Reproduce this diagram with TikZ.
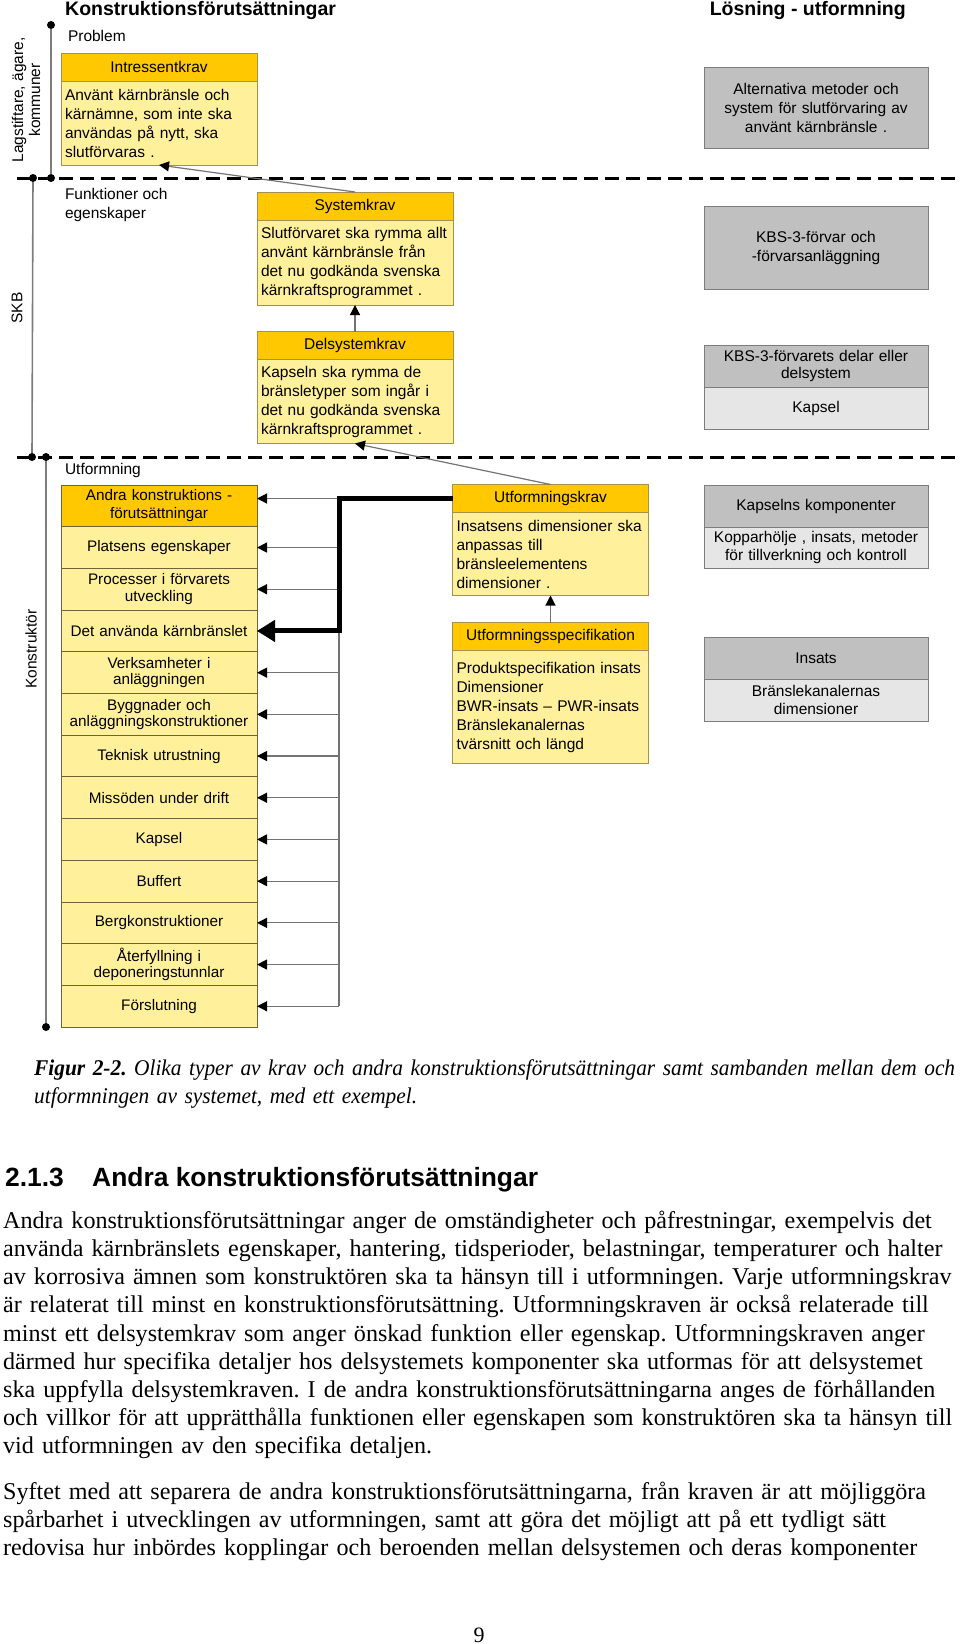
\documentclass[tikz,border=0pt]{standalone}
\usepackage{fontspec}
\setmainfont{Liberation Serif}
\newfontfamily\arial{Liberation Sans}
\newfontfamily\capfont[FakeStretch=0.95]{Liberation Serif}
\usepackage{tikz}
\usetikzlibrary{arrows.meta}
\usetikzlibrary{positioning}

\definecolor{hdrorange}{RGB}{255,200,0}
\definecolor{bodyyellow}{RGB}{255,241,155}
\definecolor{yborder}{RGB}{165,145,75}
\definecolor{rowline}{RGB}{110,100,55}
\definecolor{greydark}{RGB}{192,192,192}
\definecolor{greylight}{RGB}{230,230,230}
\definecolor{gborder}{RGB}{125,125,125}
\definecolor{axisgrey}{RGB}{125,125,125}
\definecolor{connline}{RGB}{115,115,115}

\begin{document}
\frenchspacing
\begin{tikzpicture}[x=1pt,y=-1pt,
  lbl/.style={font=\arial\fontsize{15.5}{19}\selectfont, inner sep=0pt, outer sep=0pt},
  ttl/.style={font=\arial\bfseries\fontsize{19.5}{22}\selectfont, inner sep=0pt},
  hdr/.style={lbl, draw=yborder, fill=hdrorange, line width=1pt, minimum width=196pt, minimum height=28pt},
  bodybox/.style={lbl, draw=yborder, fill=bodyyellow, line width=1pt, text width=188pt, inner xsep=4pt, inner ysep=3pt, align=left},
  rowbox/.style={lbl, font=\arial\fontsize{15.3}{16.5}\selectfont, draw=rowline, fill=bodyyellow, line width=1pt, minimum width=196pt, minimum height=41.7pt, text width=194pt, align=center},
  gdark/.style={lbl, draw=gborder, fill=greydark, line width=1pt, minimum width=224pt, text width=218pt, align=center},
  glight/.style={gdark, fill=greylight},
  axis/.style={draw=axisgrey, line width=1.6pt},
  sepline/.style={line width=3pt, dash pattern=on 14pt off 7pt},
  dot/.style={circle, fill=black, inner sep=0pt, minimum size=8pt},
  bus/.style={draw=connline, line width=1.2pt},
  conn/.style={bus, -{Triangle[length=10pt,width=10pt,color=black]}},
  bigconn/.style={line width=5pt, -{Triangle[length=18pt,width=21pt]}},
  pagetext/.style={anchor=north west, align=left, inner sep=0pt, text width=1000pt, font=\fontsize{24.1}{28.1}\selectfont},
  heading/.style={anchor=base west, inner sep=0pt, font=\arial\bfseries\fontsize{26.4}{28}\selectfont},
]
\useasboundingbox (0,0) rectangle (960,1644);

\newcommand{\rowh}{41.7}
\newcommand{\rowtop}{505.85}

% band separators
\draw[sepline] (17,178) -- (960,178);
\draw[sepline] (17,457) -- (960,457);

\node[dot] (lag-a) at (51,25) {};
\node[dot] (lag-b) at (51,178) {};
\node[dot] (skb-a) at (33,178) {};
\node[dot] (skb-b) at (32,457) {};
\node[dot] (kon-a) at (46,457) {};
\node[dot] (kon-b) at (46,1027) {};
\draw[axis] (lag-a) -- (lag-b);
\draw[axis] (skb-a) -- (skb-b);
\draw[axis] (kon-a) -- (kon-b);

\node[lbl, rotate=90, align=center, font=\arial\fontsize{15.5}{17}\selectfont] (lag) at (26,100) {Lagstiftare, ägare,\\kommuner};
\node[lbl, rotate=90] (skb) at (17,308) {SKB};
\node[lbl, rotate=90] (kon) at (31,649) {Konstruktör};

\node[ttl, anchor=west] (ttl-kf) at (65,10) {Konstruktionsförutsättningar};
\node[ttl, anchor=east] (ttl-lu) at (906,10) {Lösning - utformning};

% problem
\node[lbl, anchor=west] (problem) at (68,36) {Problem};
\node[hdr] (intr-h) at (159,67) {Intressentkrav};
\node[bodybox, minimum height=84pt, below=0pt of intr-h] (intr) {Använt kärnbränsle och\\kärnämne, som inte ska\\användas på nytt, ska\\slutförvaras .};
\node[gdark, minimum height=81pt] (alt) at (816,107.5) {Alternativa metoder och\\system för slutförvaring av\\använt kärnbränsle .};

% funktioner och egenskaper
\node[lbl, anchor=west, align=left] (funk) at (65,205) {Funktioner och\\egenskaper};
\node[hdr] (sk-h) at (355,206) {Systemkrav};
\node[bodybox, minimum height=85pt, below=0pt of sk-h] (sk) {Slutförvaret ska rymma allt\\använt kärnbränsle från\\det nu godkända svenska\\kärnkraftsprogrammet .};
\node[hdr] (dsk-h) at (355,345.5) {Delsystemkrav};
\node[bodybox, minimum height=84pt, below=0pt of dsk-h] (dsk) {Kapseln ska rymma de\\bränsletyper som ingår i\\det nu godkända svenska\\kärnkraftsprogrammet .};
\node[gdark, minimum height=83pt] (kbs) at (816,247.5) {KBS-3-förvar och\\-förvarsanläggning};
\node[gdark, minimum height=42pt, font=\arial\fontsize{15.5}{17.5}\selectfont] (del-h) at (816,366) {KBS-3-förvarets delar eller\\delsystem};
\node[glight, minimum height=42pt, below=0pt of del-h] (del) {Kapsel};

% utformning
\node[lbl, anchor=west] (utf) at (65,470) {Utformning};
\node[rowbox, fill=hdrorange, font=\arial\fontsize{15.3}{18}\selectfont] (r0) at (159,\rowtop) {Andra konstruktions -\\förutsättningar};
\foreach \txt [count=\i] in {{Platsens egenskaper},{Processer i förvarets\\utveckling},{Det använda kärnbränslet},{Verksamheter i\\anläggningen},{Byggnader och\\anläggningskonstruktioner},{Teknisk utrustning},{Missöden under drift},{Kapsel},{Buffert},{Bergkonstruktioner},{Återfyllning i\\deponeringstunnlar},{Förslutning}}
  \node[rowbox] (r\i) at (159,{\rowtop+\i*\rowh}) {\txt};

\node[hdr] (uk-h) at (550.5,498.5) {Utformningskrav};
\node[bodybox, minimum height=83pt, below=0pt of uk-h] (uk) {Insatsens dimensioner ska\\anpassas till\\bränsleelementens\\dimensioner .};
\node[hdr] (us-h) at (550.5,636.5) {Utformningsspecifikation};
\node[bodybox, minimum height=113pt, below=0pt of us-h] (us) {Produktspecifikation insats\\Dimensioner\\BWR-insats – PWR-insats\\Bränslekanalernas\\tvärsnitt och längd};
\node[gdark, minimum height=42pt] (kk-h) at (816,506) {Kapselns komponenter};
\node[glight, minimum height=41pt, font=\arial\fontsize{15.5}{18}\selectfont, below=0pt of kk-h] (kk) {Kopparhölje , insats, metoder\\för tillverkning och kontroll};
\node[gdark, minimum height=42pt] (ins-h) at (816,658) {Insats};
\node[glight, minimum height=42pt, font=\arial\fontsize{15.5}{18}\selectfont, below=0pt of ins-h] (ins) {Bränslekanalernas\\dimensioner};

% krav links
\draw[conn] (sk-h.north) -- (intr.south);
\draw[conn] (dsk-h.north) -- (sk.south);
\draw[conn] (uk-h.north) -- (dsk.south);
\draw[conn] (us-h.north) -- (uk.south);

% links to the other design premises
\coordinate (busx) at (339,498.5);
\draw[bus] (busx) -- (busx |- r12.east);
\draw[conn] (busx) -- (busx -| r0.east);
\foreach \i in {1,...,12}
  \draw[conn] (busx |- r\i.east) -- (r\i.east);
\draw[bigconn] (uk-h.west) -- (busx) -- (busx |- r3.east) -- (r3.east);

% page text
\node[anchor=north west, align=left, inner sep=0pt, text width=1000pt, font=\capfont\itshape\fontsize{22.5}{28}\selectfont] (cap) at (34,1059.5) {{\bfseries Figur 2-2.} Olika typer av krav och andra konstruktionsförutsättningar samt sambanden mellan dem och\\utformningen av systemet, med ett exempel.};
\node[heading] (sec-no) at (5,1186) {2.1.3};
\node[heading] (sec-ttl) at (92,1186) {Andra konstruktionsförutsättningar};
\node[pagetext] (par-a) at (3,1211) {Andra konstruktionsförutsättningar anger de omständigheter och påfrestningar, exempelvis det\\använda kärnbränslets egenskaper, hantering, tidsperioder, belastningar, temperaturer och halter\\av korrosiva ämnen som konstruktören ska ta hänsyn till i utformningen. Varje utformningskrav\\är relaterat till minst en konstruktionsförutsättning. Utformningskraven är också relaterade till\\minst ett delsystemkrav som anger önskad funktion eller egenskap. Utformningskraven anger\\därmed hur specifika detaljer hos delsystemets komponenter ska utformas för att delsystemet\\ska uppfylla delsystemkraven. I de andra konstruktionsförutsättningarna anges de förhållanden\\och villkor för att upprätthålla funktionen eller egenskapen som konstruktören ska ta hänsyn till\\vid utformningen av den specifika detaljen.};
\node[pagetext] (par-b) at (3,1482) {Syftet med att separera de andra konstruktionsförutsättningarna, från kraven är att möjliggöra\\spårbarhet i utvecklingen av utformningen, samt att göra det möjligt att på ett tydligt sätt\\redovisa hur inbördes kopplingar och beroenden mellan delsystemen och deras komponenter};
\node[inner sep=0pt, font=\fontsize{22}{26}\selectfont] (page-no) at (479,1635) {9};
\end{tikzpicture}
\end{document}
